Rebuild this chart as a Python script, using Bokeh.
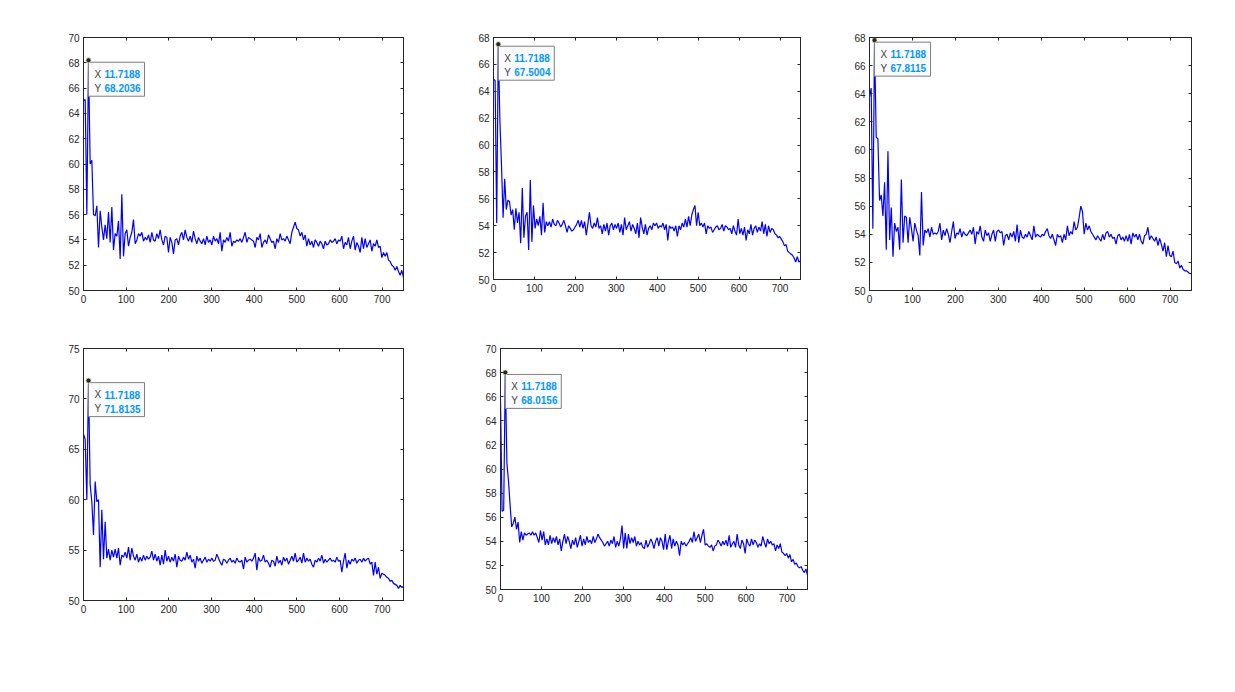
import numpy as np
from bokeh.plotting import figure
from bokeh.layouts import row, column
from bokeh.models import LinearAxis, FixedTicker, CustomJSTickFormatter, Range1d
from bokeh.embed import file_html
from bokeh.resources import INLINE
from bokeh.core.properties import value

STEP = 3.90625  # sample spacing on the x axis

s1 = [65.0, 65.1, 56.0, 68.2036, 60.0, 60.3, 56.0, 55.9, 56.7, 53.4,
      56.3, 55.0, 54.0, 55.2, 54.1, 56.2, 53.8, 56.6, 53.2, 54.5,
      54.3, 55.5, 52.5, 57.6, 52.7, 54.5, 54.8, 53.5,
      54.2, 54.6, 55.6, 53.7, 54.0, 54.5, 54.3, 54.6, 53.9, 54.2, 54.0, 54.4,
      53.8, 54.6, 54.0, 53.9, 54.5, 54.1, 54.8, 54.0, 53.6, 54.3, 54.2, 53.0,
      54.2, 53.8, 52.9, 54.0, 54.1, 53.6, 54.3, 54.6, 54.0, 54.8, 54.2, 53.9,
      54.3, 53.8, 54.7, 54.1, 53.7, 54.2, 53.9, 53.7, 54.1, 53.6, 54.3, 53.8, 54.0,
      53.6, 54.3, 53.9, 54.1, 53.7, 54.6, 53.1, 54.0, 53.8, 54.2, 53.9, 54.6, 53.5,
      53.9, 53.8, 54.0, 53.9, 54.1, 53.8, 54.2, 54.6, 53.8, 54.2, 54.1, 54.0, 53.9,
      53.4, 54.2, 54.0, 54.5, 53.4, 53.8, 54.0, 53.7, 54.4, 54.1, 53.8, 53.9, 53.3,
      54.1, 53.8, 54.5, 54.0, 54.1, 53.9, 54.3, 54.0, 53.7, 54.6, 55.0, 55.4,
      54.9, 54.8, 54.3, 54.6, 54.0, 54.4, 53.5, 54.1, 53.6, 53.9, 53.4, 54.0, 53.8,
      53.5, 53.9, 53.7, 53.3, 53.9, 53.6, 53.7, 54.0, 53.8, 53.9, 54.1, 53.7, 54.0,
      53.9, 54.3, 53.3, 53.8, 53.6, 54.2, 53.3, 53.9, 54.3, 53.2, 53.8, 53.5, 53.0,
      54.2, 53.3, 54.1, 53.4, 53.7, 54.0, 53.1, 53.7, 53.5, 54.0, 53.4, 53.5, 52.6,
      53.0, 52.7, 53.0, 52.4, 52.3, 52.0, 51.9, 51.6, 51.9, 51.5, 51.2, 51.6, 51.0]

s2 = [64.9, 64.8, 54.2, 67.5004, 61.8, 58.5, 54.6, 57.5, 55.2, 55.9,
      55.8, 54.8, 55.2, 53.7, 55.3, 54.2, 55.0, 52.7, 56.8, 53.1,
      54.7, 55.0, 52.2, 57.4, 52.8, 55.5, 53.8, 54.5, 54.0, 54.7,
      53.3, 55.7, 53.5, 54.3,
      54.0, 54.3, 53.9, 54.5, 54.1, 54.0,
      54.4, 54.2, 53.9, 54.1, 54.4, 54.0, 53.5, 54.0, 53.8, 53.6, 53.7, 53.9,
      54.1, 54.4, 53.9, 54.4, 53.8, 54.3, 53.3, 54.1, 55.0, 54.0, 53.8, 54.2,
      53.9, 54.6, 53.8, 54.0, 53.4, 54.1, 53.6, 54.2, 53.3, 54.0, 54.2, 53.7, 54.1,
      53.8, 54.2, 53.5, 54.1, 53.3, 54.6, 53.7, 54.0, 54.3, 53.6, 54.1, 53.8, 53.4,
      54.2, 53.1, 54.6, 53.9, 53.4, 54.1, 53.3, 53.8, 54.0, 53.7, 54.2, 54.0, 54.2,
      53.8, 54.0, 53.9, 54.2, 53.7, 54.1, 52.9, 54.0, 53.8, 53.9, 53.6, 54.0, 53.2,
      54.0, 53.7, 54.2, 53.9, 54.5, 53.9, 54.7, 54.0, 54.8, 55.2, 55.5, 54.0,
      55.0, 54.0, 54.2, 53.9, 54.2, 53.4, 54.0, 53.8, 53.9, 53.5, 53.7, 53.9, 54.0,
      53.7, 53.8, 54.1, 53.6, 54.0, 53.9, 53.7, 53.8, 53.4, 54.0, 53.6, 53.3, 54.5,
      53.4, 53.8, 53.3, 53.9, 52.9, 53.7, 53.4, 54.1, 53.3, 53.8, 54.0, 53.5, 53.9,
      53.6, 54.3, 53.4, 54.1, 53.2, 54.0, 53.5, 53.8, 53.7, 53.4, 53.3, 53.1, 53.2,
      53.0, 52.8, 52.5, 52.6, 52.1, 52.0, 51.9, 51.8, 51.6, 51.3, 51.7, 51.3, 51.4]

s3 = [63.8, 64.4, 54.4, 67.8115, 60.9, 60.8, 56.4, 56.8, 55.3, 57.7,
      52.9, 59.9, 53.6, 55.9, 52.4, 54.8, 54.2, 54.5, 52.9, 57.9,
      53.4, 55.3, 55.2, 53.4, 55.2, 54.4, 53.5, 54.8, 54.3, 53.9,
      52.5, 57.0, 53.2, 54.3,
      54.1, 54.4, 53.8, 54.5, 54.0, 54.1,
      54.0, 54.2, 54.8, 53.6, 54.3, 53.9, 54.4, 54.0, 53.4, 54.2, 54.9, 53.7,
      54.1, 54.0, 54.4, 53.8, 54.2, 54.0, 53.9, 54.1, 54.3, 54.0, 54.5, 53.3,
      54.2, 54.0, 54.6, 53.8, 53.5, 54.3, 53.9, 54.1, 53.5, 54.0, 54.3, 53.5, 54.2,
      54.3, 54.1, 54.2, 53.2, 53.9, 54.0, 53.6, 54.1, 53.8, 54.2, 53.5, 54.7, 53.4,
      54.3, 53.8, 53.7, 54.0, 53.8, 54.2, 53.9, 53.6, 54.6, 53.8, 54.0, 53.9, 53.8,
      54.0, 53.9, 54.2, 54.4, 53.9, 53.7, 54.0, 53.6, 53.2, 54.0, 53.8, 53.9, 53.4,
      54.0, 53.6, 54.6, 53.9, 54.2, 54.0, 54.9, 54.3, 54.5, 55.2, 56.0, 55.6,
      54.0, 54.8, 54.3, 54.6, 54.2, 54.0, 53.8, 53.6, 53.9, 53.7, 53.5, 54.0, 53.6,
      54.1, 54.2, 53.8, 54.0, 53.7, 53.8, 53.3, 53.9, 54.0, 53.6, 53.8, 53.5, 53.9,
      53.5, 54.0, 53.3, 54.1, 53.8, 54.0, 53.6, 54.0, 53.5, 53.3, 53.9, 54.0, 54.5,
      53.6, 53.9, 53.7, 53.5, 53.8, 53.2, 53.7, 53.3, 52.8, 53.4, 52.4, 53.2, 52.5,
      52.4, 52.8, 52.0, 51.9, 52.1, 51.6, 51.8, 51.5, 51.4, 51.4, 51.3, 51.2, 51.2]

s4 = [66.5, 66.0, 60.0, 71.8135, 61.5, 59.8, 56.5, 61.8, 59.8, 60.0,
      53.3, 59.0, 54.1, 57.8, 54.2, 55.1, 54.0, 55.0, 54.3, 55.1,
      54.2, 55.2, 53.5, 54.5, 54.3, 54.8, 54.2, 55.3, 54.0, 55.2,
      54.4, 54.0, 54.6, 53.8,
      54.3, 53.9, 54.5, 54.0, 54.4, 54.1,
      54.3, 54.9, 54.0, 54.6, 53.9, 54.4, 53.5, 54.5, 53.6, 55.0, 53.9, 54.4,
      53.8, 54.3, 53.9, 54.6, 53.3, 54.4, 54.0, 53.9, 54.3, 54.0, 54.8, 54.1,
      54.5, 53.8, 54.1, 53.2, 54.4, 53.9, 54.2, 53.7, 54.0, 54.3, 53.8, 54.1, 53.9,
      54.2, 53.9, 54.0, 54.6, 54.2, 53.8, 53.5, 54.1, 54.0, 53.7, 54.0, 54.2, 53.8,
      54.0, 53.7, 54.2, 53.9, 53.8, 54.0, 53.1, 54.3, 53.8, 54.0, 54.1, 53.9, 54.2,
      54.7, 53.0, 54.3, 53.9, 54.0, 54.5, 53.8, 54.0, 53.7, 53.3, 54.0, 53.9, 53.4,
      54.4, 53.7, 54.0, 53.5, 54.3, 53.9, 54.2, 53.6, 54.0, 54.4, 53.9, 54.7,
      53.8, 54.0, 54.3, 53.7, 54.7, 53.8, 54.2, 53.9, 54.1, 53.6, 53.3, 54.0, 53.8,
      54.2, 53.9, 54.5, 53.7, 54.1, 53.8, 54.0, 54.2, 53.9, 54.0, 53.8, 54.3, 53.9,
      54.0, 52.8, 53.9, 54.7, 53.2, 54.0, 53.6, 54.1, 53.9, 54.2, 53.7, 54.0, 54.1,
      53.8, 54.2, 53.9, 54.1, 54.2, 53.6, 53.8, 52.5, 53.8, 52.6, 53.3, 52.2, 52.7,
      52.6, 52.5, 52.3, 52.2, 51.9, 52.0, 51.7, 51.6, 51.5, 51.2, 51.5, 51.3, 51.4]

s5 = [65.8, 56.5, 56.6, 68.0156, 60.5, 59.0, 57.0, 55.2, 55.5, 56.0,
      55.0, 55.6, 53.9, 54.8, 54.1, 54.7, 54.5, 54.6, 54.7, 54.5,
      54.8, 54.5, 54.7, 54.3, 53.9, 54.9, 54.1, 54.8, 53.7, 54.2,
      53.7, 54.5, 53.8, 54.3,
      53.9, 54.4, 53.7, 54.2, 53.2, 54.0,
      54.6, 53.8, 54.4, 54.0, 53.4, 54.1, 53.7, 54.3, 53.5, 54.0, 54.5, 53.6,
      54.2, 53.7, 54.4, 53.9, 54.1, 53.8, 54.4, 53.9, 54.2, 54.6, 54.3, 54.1,
      53.9, 53.6, 53.8, 54.0, 53.6, 54.1, 53.8, 54.4, 53.5, 54.0, 53.6, 54.2, 55.3,
      53.4, 54.7, 53.4, 54.6, 53.8, 54.3, 53.9, 54.4, 53.6, 54.0, 53.7, 53.9, 53.5,
      53.4, 54.1, 53.5, 53.8, 54.2, 53.9, 53.4, 54.0, 54.3, 53.6, 54.3, 54.0, 53.3,
      54.6, 53.3, 54.0, 54.5, 53.4, 54.2, 53.6, 54.0, 53.7, 52.8, 54.0, 53.7, 53.9,
      53.6, 53.8, 54.0, 54.3, 53.9, 54.8, 54.0, 54.3, 54.6, 53.9, 54.5, 55.0,
      53.7, 53.8, 53.6, 53.5, 53.7, 53.2, 53.6, 53.7, 54.1, 53.9, 53.6, 54.0, 53.7,
      54.1, 53.6, 54.5, 53.5, 53.8, 54.0, 53.5, 54.6, 53.7, 53.4, 54.1, 53.8, 53.0,
      54.2, 53.8, 53.6, 54.2, 53.7, 54.1, 53.9, 53.5, 53.8, 53.6, 54.4, 53.9, 53.5,
      54.2, 53.8, 54.0, 53.7, 53.8, 53.2, 53.7, 53.4, 53.8, 53.1, 53.0, 52.8, 53.0,
      52.6, 52.9, 52.3, 52.5, 52.1, 52.2, 51.9, 51.8, 51.9, 51.6, 51.4, 51.7, 51.2]

series = [s1, s2, s3, s4, s5]
tip_x = 11.7188
tip_y = [68.2036, 67.5004, 67.8115, 71.8135, 68.0156]
tip_x_label = "11.7188"
tip_y_labels = ["68.2036", "67.5004", "67.8115", "71.8135", "68.0156"]
y_limits = [(50, 70), (50, 68), (50, 68), (50, 75), (50, 70)]
y_tick_lists = [list(range(50, 71, 2)), list(range(50, 69, 2)), list(range(50, 69, 2)),
                list(range(50, 76, 5)), list(range(50, 71, 2))]
x_ticks = list(range(0, 701, 100))
x_limits = (0, 750)

# layout: (frame_w, frame_h, border_left, border_right, border_top, border_bottom)
geoms = [
    (320, 253, 83, 10, 37, 28),
    (307, 242, 80, 10, 35, 41),
    (322, 253, 59, 10, 34, 31),
    (320, 252, 83, 10, 30, 30),
    (307, 241, 87, 10, 28, 43),
]

AX = "#262626"
FONT = "Liberation Sans"


def style_axis(ax, ticks, show_labels=True):
    ax.ticker = FixedTicker(ticks=ticks)
    ax.axis_line_color = AX
    ax.axis_line_width = 1
    ax.major_tick_line_color = AX
    ax.major_tick_in = 3
    ax.major_tick_out = 0
    ax.minor_tick_line_color = None
    ax.major_label_text_font = FONT
    ax.major_label_text_font_size = "10px"
    ax.major_label_text_color = AX
    if show_labels:
        ax.major_label_standoff = 4
    else:
        ax.formatter = CustomJSTickFormatter(code="return ''")
        ax.major_label_standoff = 0


def panel(k):
    fw, fh, bl, br, bt, bb = geoms[k]
    y0, y1 = y_limits[k]
    p = figure(frame_width=fw, frame_height=fh,
               min_border_left=bl, min_border_right=br,
               min_border_top=bt, min_border_bottom=bb,
               x_range=Range1d(*x_limits), y_range=Range1d(y0, y1),
               output_backend="svg", toolbar_location=None)
    p.xgrid.visible = False
    p.ygrid.visible = False
    p.background_fill_color = "white"
    p.border_fill_color = "white"
    p.outline_line_color = AX
    p.outline_line_width = 1

    style_axis(p.xaxis[0], x_ticks)
    style_axis(p.yaxis[0], y_tick_lists[k])
    top = LinearAxis()
    right = LinearAxis()
    p.add_layout(top, "above")
    p.add_layout(right, "right")
    style_axis(top, x_ticks, show_labels=False)
    style_axis(right, y_tick_lists[k], show_labels=False)

    ys = series[k]
    xs = np.arange(len(ys)) * STEP
    p.line(xs, ys, line_color="#0000FF", line_width=1.2)

    # data tip
    dx = (x_limits[1] - x_limits[0]) / fw
    dy = (y1 - y0) / fh
    ty = tip_y[k]
    p.quad(left=[tip_x], right=[tip_x + 56 * dx], top=[ty - 2 * dy], bottom=[ty - 36 * dy],
           fill_color="#FBFBFD", line_color="#7F7F7F", line_width=1)
    p.scatter([tip_x], [ty], size=5, fill_color="#262626", line_color="#D8D8A0", line_width=0.8)
    p.text([tip_x, tip_x], [ty, ty], text=["X", "Y"], x_offset=[6, 6], y_offset=[14, 28],
           text_baseline="middle", text_align="left", text_font=value(FONT),
           text_font_size="10px", text_color="#404040")
    p.text([tip_x, tip_x], [ty, ty], text=[tip_x_label, tip_y_labels[k]], x_offset=[16, 16],
           y_offset=[14, 28], text_baseline="middle", text_align="left", text_font=value(FONT),
           text_font_size="10px", text_font_style="bold", text_color="#0099FF")
    return p


figs = [panel(k) for k in range(5)]
layout = column(row(figs[0], figs[1], figs[2]), row(figs[3], figs[4]))
open("out.html", "w").write(file_html(layout, INLINE))
